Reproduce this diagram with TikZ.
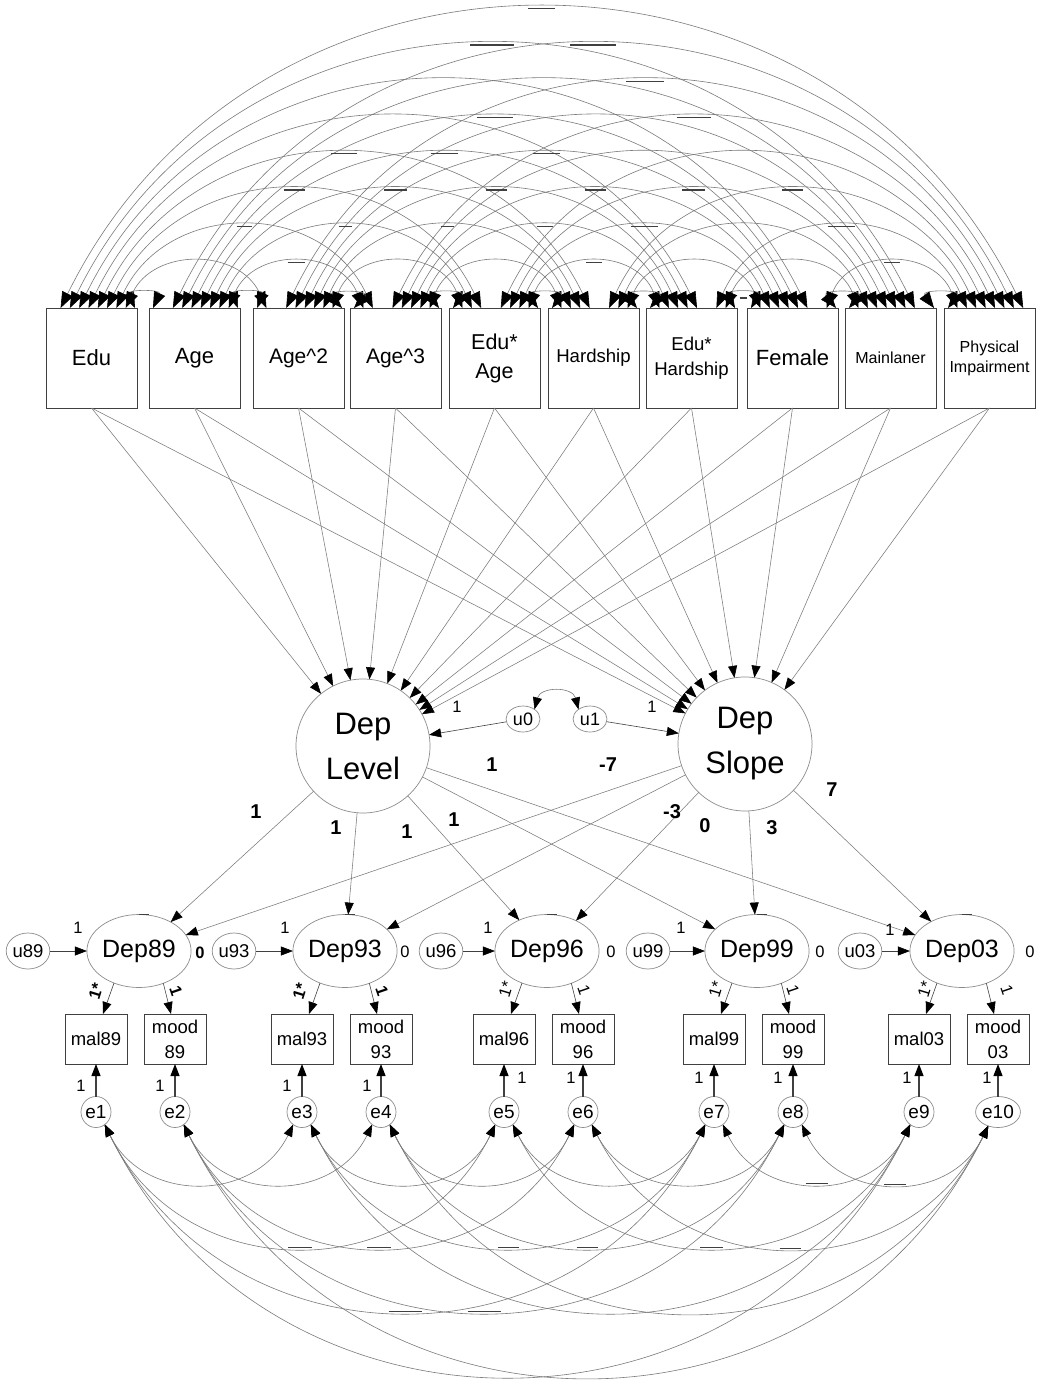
\documentclass[tikz,border=0pt]{standalone}
\usepackage{fontspec}
\setmainfont{Liberation Sans}
\usetikzlibrary{arrows.meta,calc,shapes.geometric}
\definecolor{cEdge}{gray}{0.25}
\definecolor{cWire}{gray}{0.48}
\definecolor{cRim}{gray}{0.55}
\begin{document}
\begin{tikzpicture}[x=1pt,y=-1pt,
  every node/.style={inner sep=0pt, outer sep=0pt},
  box/.style={draw=cEdge, line width=0.9pt, minimum width=91pt, minimum height=100pt, align=center},
  ind/.style={draw=cEdge, line width=0.9pt, minimum width=62pt, minimum height=50pt, align=center, font=\fontsize{18.5}{25}\selectfont},
  lat/.style={ellipse, draw=cRim, line width=0.7pt, minimum width=93pt, minimum height=73pt, font=\fontsize{25}{28}\selectfont},
  big/.style={circle, draw=cRim, line width=0.7pt, minimum size=134pt, align=center, font=\fontsize{31}{45}\selectfont},
  err/.style={ellipse, draw=cRim, line width=0.7pt, minimum width=30pt, minimum height=31pt, font=\fontsize{19}{19}\selectfont},
  res/.style={ellipse, draw=cRim, line width=0.7pt, minimum width=40pt, minimum height=36pt, font=\fontsize{18.5}{19}\selectfont},
  dis/.style={ellipse, draw=cRim, line width=0.7pt, minimum width=34pt, minimum height=26pt, font=\fontsize{18}{18}\selectfont},
  tipa/.tip={Triangle[length=12pt,width=9pt,color=black]},
  tipc/.tip={Triangle[length=16pt,width=12pt,color=black]},
  reg/.style={draw=cWire, line width=0.55pt, -tipa},
  load/.style={draw=cEdge, line width=0.6pt, -tipa},
  ebar/.style={draw=cEdge, line width=1.1pt, -tipa},
  cov/.style={draw=cWire, line width=0.6pt, tipc-tipc},
  dashbar/.style={draw=black!75, line width=1.3pt},
  lab/.style={font=\fontsize{16.5}{16.5}\selectfont},
  blab/.style={font=\bfseries\fontsize{20}{20}\selectfont},
  rlab/.style={font=\bfseries\fontsize{16.5}{16.5}\selectfont},
]
\useasboundingbox (0,0) rectangle (1041,1380);
\fill[white] (0,0) rectangle (1041,1380);

% ---------- observed predictors ----------
\node[box,font=\fontsize{22}{29}\selectfont] (b0) at (91.5,358) {Edu};
\node[box,font=\fontsize{22}{29}\selectfont] (b1) at (194.5,358) {Age};
\node[box,font=\fontsize{21}{29}\selectfont] (b2) at (298.5,358) {Age\textasciicircum 2};
\node[box,font=\fontsize{21}{29}\selectfont] (b3) at (395.5,358) {Age\textasciicircum 3};
\node[box,font=\fontsize{21.5}{29}\selectfont] (b4) at (494.5,358) {Edu*\\Age};
\node[box,font=\fontsize{18.6}{25}\selectfont] (b5) at (593.5,358) {Hardship};
\node[box,font=\fontsize{18.6}{25}\selectfont] (b6) at (691.5,358) {Edu*\\Hardship};
\node[box,font=\fontsize{22}{28}\selectfont] (b7) at (792.5,358) {Female};
\node[box,font=\fontsize{16}{20}\selectfont] (b8) at (890.5,358) {Mainlaner};
\node[box,font=\fontsize{16}{20}\selectfont] (b9) at (989.5,358) {Physical\\Impairment};

% ---------- growth factors ----------
\node[big] (lev) at (363,746) {Dep\\Level};
\node[big] (slo) at (745,744) {Dep\\Slope};
\node[dis] (ua) at (523,719) {u0};
\node[dis] (ub) at (590,719) {u1};

% ---------- occasions, indicators, errors ----------
\foreach \k/\x/\ux/\yr in {1/139/28/89, 2/345/234/93, 3/547/441/96, 4/757/648/99, 5/962/860/03}{
  \pgfmathsetmacro{\mx}{\x-43}
  \pgfmathsetmacro{\ox}{\x+36}
  \pgfmathtruncatemacro{\ea}{2*\k-1}
  \pgfmathtruncatemacro{\eb}{2*\k}
  \node[lat] (dp\k) at (\x,951) {Dep\yr};
  \node[res] (r\k) at (\ux,951) {u\yr};
  \node[ind] (ma\k) at (\mx,1039) {mal\yr};
  \node[ind] (mo\k) at (\ox,1039) {mood\\\yr};
  \node[err] (e\ea) at (\mx,1112) {e\ea};
  \node[err] (e\eb) at (\ox,1112) {e\eb};
}

% ---------- covariances among predictors ----------
\def\Ls{{46,149,253,350,449,548,646,747,845,944}}
\foreach \i in {0,...,8}{
  \pgfmathtruncatemacro{\inext}{\i+1}
  \foreach \j in {\inext,...,9}{
    \pgfmathsetmacro{\oa}{89-9.3*(\j-\i-1)}
    \pgfmathsetmacro{\ob}{4+9.4*(\j-\i-1)}
    \coordinate (t\i-\j) at ([xshift=\oa pt]b\i.north west);
    \coordinate (t\j-\i) at ([xshift=\ob pt]b\j.north west);
  }
}
\foreach \i in {0,...,8}{
  \pgfmathtruncatemacro{\inext}{\i+1}
  \foreach \j in {\inext,...,9}{
    \pgfmathsetmacro{\k}{\j-\i}
    \pgfmathsetmacro{\c}{\Ls[\j]+4+9.4*(\k-1)-\Ls[\i]-89+9.3*(\k-1)}
    \pgfmathsetmacro{\h}{\k==1 ? 14 : 9+36.3*(\k-1)}
    \pgfmathsetmacro{\al}{2*atan(2*\h/\c)}
    \pgfmathsetmacro{\dy}{4*\h/3}
    \pgfmathsetmacro{\dx}{\dy*cos(\al)/sin(\al)}
    \draw[cov] (t\i-\j) .. controls +(\dx,-\dy) and +(-\dx,-\dy) .. (t\j-\i);
  }
}
\foreach \i/\j/\w in {0/9/27,0/8/44,1/9/46,2/9/38,1/7/36,3/9/34,0/5/26,1/6/27,2/7/27,
  0/4/21,1/5/23,2/6/21,3/7/21,4/8/23,5/9/21,0/3/15,1/4/13,2/5/13,3/6/16,4/7/27,6/9/27,
  1/3/17,4/6/16,7/9/16,6/7/7}{
  \pgfmathsetmacro{\h}{(\j-\i)==1 ? 10 : 9+36.3*(\j-\i-1)}
  \pgfmathsetmacro{\hw}{-\w/2}
  \draw[dashbar] ($(t\i-\j)!0.5!(t\j-\i)+(\hw,-\h)$) -- ++(\w,0);
}

% ---------- regressions on the growth factors ----------
\foreach \i in {0,...,9}{
  \draw[reg] (b\i.south) -- (lev);
  \draw[reg] (b\i.south) -- (slo);
}
\draw[load] (ua) -- (lev);
\draw[load] (ub) -- (slo);
\draw[draw=cWire, line width=0.6pt, tipa-tipa] (ua.40) .. controls +(6,-23) and +(-6,-23) .. (ub.140);

% ---------- growth loadings, residuals, measurement ----------
\foreach \k in {1,...,5}{
  \pgfmathtruncatemacro{\ea}{2*\k-1}
  \pgfmathtruncatemacro{\eb}{2*\k}
  \draw[reg] (lev) -- (dp\k);
  \draw[reg] (slo) -- (dp\k);
  \draw[load] (r\k) -- (dp\k);
  \draw[load] (dp\k.-128) -- ([xshift=7pt]ma\k.north);
  \draw[load] (dp\k.-53) -- ([xshift=-4pt]mo\k.north);
  \draw[ebar] (e\ea) -- (ma\k);
  \draw[ebar] (e\eb) -- (mo\k);
  \draw[dashbar] (dp\k.north) -- ([xshift=10pt]dp\k.north);
}

% ---------- error covariances ----------
\def\Ex{{0,96,175,302,381,504,583,714,793,919,998}}
\foreach \a/\b/\k in {1/3/1,3/5/1,5/7/1,7/9/1,2/4/1,4/6/1,6/8/1,8/10/1,
  1/5/2,3/7/2,5/9/2,2/6/2,4/8/2,6/10/2,1/7/3,3/9/3,2/8/3,4/10/3,1/9/4,2/10/4}{
  \pgfmathsetmacro{\c}{\Ex[\b]-\Ex[\a]-17.5}
  \pgfmathsetmacro{\h}{59+64*(\k-1)}
  \pgfmathsetmacro{\al}{2*atan(2*\h/\c)}
  \pgfmathsetmacro{\dy}{4*\h/3}
  \pgfmathsetmacro{\dx}{\dy*cos(\al)/sin(\al)}
  \draw[draw=cWire, line width=0.6pt, tipa-tipa] (e\a.-55) .. controls +(\dx,\dy) and +(-\dx,\dy) .. (e\b.-125);
}
\foreach \a/\b/\k/\w in {7/9/1/22,8/10/1/22,1/5/2/24,2/6/2/24,3/7/2/21,4/8/2/21,5/9/2/23,6/10/2/21,1/7/3/33,2/8/3/33}{
  \pgfmathsetmacro{\h}{59+64*(\k-1)}
  \pgfmathsetmacro{\hw}{-\w/2}
  \draw[dashbar] ($(e\a.-55)!0.5!(e\b.-125)+(\hw,\h)$) -- ++(\w,0);
}

% ---------- parameter labels ----------
\node[lab] (q1) at (457,707) {1};
\node[lab] (q2) at (652,707) {1};
\node[blab] (w1) at (492,765) {1};
\node[blab] (w2) at (608,765) {-7};
\node[blab] (w3) at (256,812) {1};
\node[blab] (w4) at (336,828) {1};
\node[blab] (w5) at (407,832) {1};
\node[blab] (w6) at (454,820) {1};
\node[blab] (w7) at (672,812) {-3};
\node[blab] (w8) at (705,826) {0};
\node[blab] (w9) at (772,828) {3};
\node[blab] (w10) at (832,790) {7};

\node[lab] (v1) at (78,928) {1};
\node[lab] (v2) at (285,928) {1};
\node[lab] (v3) at (488,928) {1};
\node[lab] (v4) at (681,928) {1};
\node[lab] (v5) at (890,930) {1};

\node[rlab] (z1) at (200,953) {0};
\node[lab] (z2) at (405,952) {0};
\node[lab] (z3) at (611,952) {0};
\node[lab] (z4) at (820,952) {0};
\node[lab] (z5) at (1030,952) {0};

\node[rlab,rotate=73] (s1) at (96,991) {1*};
\node[rlab,rotate=73] (s2) at (300,991) {1*};
\node[lab,rotate=73] (s3) at (506,989) {1*};
\node[lab,rotate=73] (s4) at (716,989) {1*};
\node[lab,rotate=73] (s5) at (925,989) {1*};
\node[rlab,rotate=-71] (o1) at (176,991) {1};
\node[rlab,rotate=-71] (o2) at (382,991) {1};
\node[lab,rotate=-71] (o3) at (584,990) {1};
\node[lab,rotate=-71] (o4) at (793,990) {1};
\node[lab,rotate=-71] (o5) at (1007,990) {1};

\node[lab] (n1) at (81,1086) {1};
\node[lab] (n2) at (160,1086) {1};
\node[lab] (n3) at (287,1086) {1};
\node[lab] (n4) at (367,1086) {1};
\node[lab] (n5) at (522,1078) {1};
\node[lab] (n6) at (571,1078) {1};
\node[lab] (n7) at (699,1078) {1};
\node[lab] (n8) at (778,1078) {1};
\node[lab] (n9) at (907,1078) {1};
\node[lab] (n10) at (987,1078) {1};
\end{tikzpicture}
\end{document}
